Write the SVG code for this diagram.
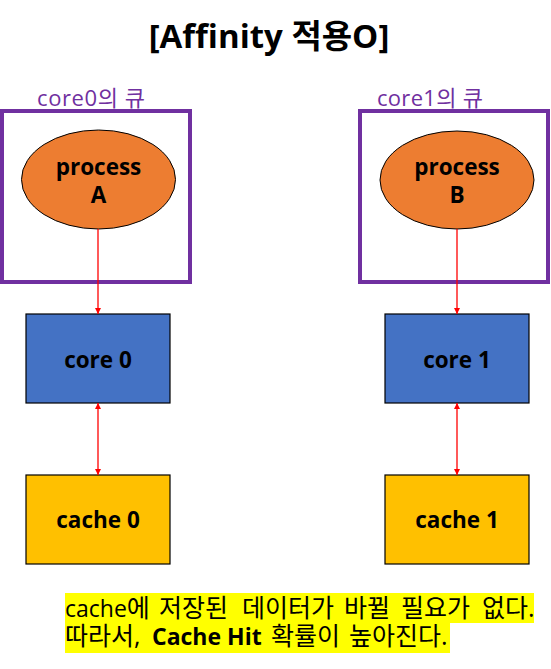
<svg xmlns="http://www.w3.org/2000/svg" width="551" height="669" viewBox="0 0 551 669">
<style>
text{font-family:"Open Sans","Noto Sans CJK KR",sans-serif;}
.title{font-size:33px;font-weight:bold;fill:#000;}
.qlabel{font-size:22px;fill:#7030A0;}
.queue{fill:none;stroke:#7030A0;stroke-width:4;}
.proc{fill:#ED7D31;stroke:#000;stroke-width:1;}
.core{fill:#4472C4;stroke:#000;stroke-width:1.2;}
.cache{fill:#FFC000;stroke:#000;stroke-width:1.2;}
.lbl{font-size:22.5px;font-weight:bold;fill:#000;text-anchor:middle;}
.conn{stroke:#FF0000;stroke-width:1.3;fill:none;}
.note{font-size:25px;fill:#000;}
.lat{font-size:23px;}
.hl{fill:#FFFF00;}
</style>
<defs>
<marker id="ah" viewBox="0 0 10 10" refX="10" refY="5" markerWidth="6" markerHeight="7" orient="auto-start-reverse" markerUnits="userSpaceOnUse">
<path d="M0,0 L10,5 L0,10 Z" fill="#FF0000"/>
</marker>
</defs>
<text class="title" x="269" y="48" text-anchor="middle">[Affinity 적용O]</text>

<g id="queue0">
<rect class="queue" x="2" y="111" width="188" height="171"/>
<text class="qlabel" x="91" y="106" text-anchor="middle" textLength="108">core0의 큐</text>
</g>
<g id="queue1">
<rect class="queue" x="360" y="111" width="188" height="171"/>
<text class="qlabel" x="430" y="106" text-anchor="middle" textLength="106">core1의 큐</text>
</g>

<g id="processA">
<ellipse class="proc" cx="98.5" cy="179.5" rx="77" ry="49.5"/>
<text class="lbl" x="98.5" y="175">process</text>
<text class="lbl" x="98.5" y="203">A</text>
</g>
<g id="processB">
<ellipse class="proc" cx="457" cy="180" rx="77" ry="49"/>
<text class="lbl" x="457" y="175">process</text>
<text class="lbl" x="457" y="203">B</text>
</g>

<g id="core0">
<rect class="core" x="26" y="314" width="144" height="89"/>
<text class="lbl" x="98" y="368">core 0</text>
</g>
<g id="core1">
<rect class="core" x="385" y="314" width="144" height="89"/>
<text class="lbl" x="457" y="368">core 1</text>
</g>

<g id="cache0">
<rect class="cache" x="26" y="475" width="144" height="89"/>
<text class="lbl" x="98" y="528">cache 0</text>
</g>
<g id="cache1">
<rect class="cache" x="385" y="475" width="144" height="89"/>
<text class="lbl" x="457" y="528">cache 1</text>
</g>

<g id="connectors">
<line class="conn" x1="98" y1="229" x2="98" y2="314" marker-end="url(#ah)"/>
<line class="conn" x1="457" y1="229" x2="457" y2="314" marker-end="url(#ah)"/>
<line class="conn" x1="98" y1="403" x2="98" y2="475" marker-start="url(#ah)" marker-end="url(#ah)"/>
<line class="conn" x1="457" y1="403" x2="457" y2="475" marker-start="url(#ah)" marker-end="url(#ah)"/>
</g>

<g id="note">
<rect class="hl" x="65" y="593" width="469" height="30"/>
<rect class="hl" x="65" y="623" width="385" height="30"/>
<text class="note" y="617"><tspan x="65" class="lat">cache</tspan><tspan>에</tspan> <tspan x="159">저장된</tspan> <tspan x="242">데이터가</tspan> <tspan x="344">바뀔</tspan> <tspan x="401">필요가</tspan> <tspan x="482">없다.</tspan></text>
<text class="note" y="645"><tspan x="65">따라서,</tspan> <tspan x="152" class="lat" font-weight="bold">Cache Hit</tspan> <tspan x="271">확률이</tspan> <tspan x="349">높아진다.</tspan></text>
</g>
</svg>
